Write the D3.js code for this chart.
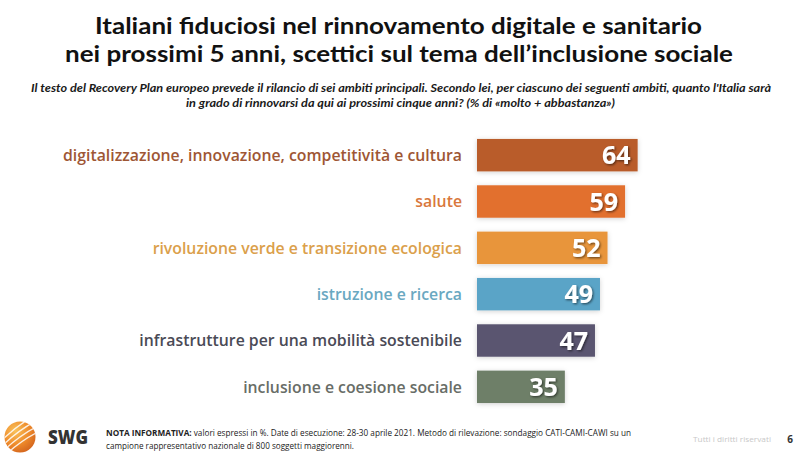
<!DOCTYPE html>
<html>
<head>
<meta charset="utf-8">
<script src="https://cdn.jsdelivr.net/npm/d3@7/dist/d3.min.js"></script>
<style>
  html, body { margin: 0; padding: 0; background: #fff; }
  svg { display: block; }
</style>
</head>
<body>
<svg id="chart" width="800" height="456"></svg>
<script>
// ---- data ----
const categories = [
  "digitalizzazione, innovazione, competitività e cultura",
  "salute",
  "rivoluzione verde e transizione ecologica",
  "istruzione e ricerca",
  "infrastrutture per una mobilità sostenibile",
  "inclusione e coesione sociale"
];
const values = [64, 59, 52, 49, 47, 35];
const barColors = ["#B95B2B", "#E2702F", "#E8953A", "#5AA4C7", "#5A5470", "#6E7F68"];
const labelColors = ["#9E5634", "#D9783C", "#DBA04B", "#6AA8C1", "#4A4A56", "#686D67"];

const titleLines = [
  "Italiani fiduciosi nel rinnovamento digitale e sanitario",
  "nei prossimi 5 anni, scettici sul tema dell\u2019inclusione sociale"
];
const subtitleLines = [
  "Il testo del Recovery Plan europeo prevede il rilancio di sei ambiti principali. Secondo lei, per ciascuno dei seguenti ambiti, quanto l'Italia sarà",
  "in grado di rinnovarsi da qui ai prossimi cinque anni? (% di \u00ABmolto + abbastanza\u00BB)"
];

const svg = d3.select("#chart");

const defs = svg.append("defs");
const sh = defs.append("filter").attr("id", "txtShadow").attr("x", "-30%").attr("y", "-30%").attr("width", "160%").attr("height", "160%");
sh.append("feDropShadow").attr("dx", 1.2).attr("dy", 1.2).attr("stdDeviation", 0.8).attr("flood-color", "#000").attr("flood-opacity", 0.55);
const bsh = defs.append("filter").attr("id", "barShadow").attr("x", "-10%").attr("y", "-30%").attr("width", "120%").attr("height", "160%");
bsh.append("feDropShadow").attr("dx", 0).attr("dy", 1).attr("stdDeviation", 2.5).attr("flood-color", "#000").attr("flood-opacity", 0.18);
const lg = defs.append("radialGradient").attr("id", "logoGrad").attr("cx", "35%").attr("cy", "30%").attr("r", "75%");
lg.append("stop").attr("offset", "0%").attr("stop-color", "#F9C25A");
lg.append("stop").attr("offset", "60%").attr("stop-color", "#EE8A2A");
lg.append("stop").attr("offset", "100%").attr("stop-color", "#D4661E");

function fit(sel, w) {
  sel.attr("textLength", w).attr("lengthAdjust", "spacingAndGlyphs");
}

// ---- title ----
const titleSpecs = [{x: 398.5, y: 33.5, w: 607}, {x: 399, y: 62, w: 668}];
titleLines.forEach((t, i) => {
  svg.append("text")
    .attr("x", titleSpecs[i].x).attr("y", titleSpecs[i].y)
    .attr("text-anchor", "middle")
    .attr("font-family", "Lato").attr("font-weight", 700).attr("font-size", 23.5)
    .attr("fill", "#111")
    .text(t)
    .call(fit, titleSpecs[i].w);
});

const subSpecs = [{x: 401, y: 91.5, w: 740}, {x: 400.5, y: 106.5, w: 429}];
subtitleLines.forEach((t, i) => {
  svg.append("text")
    .attr("x", subSpecs[i].x).attr("y", subSpecs[i].y)
    .attr("text-anchor", "middle")
    .attr("font-family", "Lato").attr("font-style", "italic").attr("font-weight", 700).attr("font-size", 12)
    .attr("fill", "#1a1a1a")
    .text(t)
    .call(fit, subSpecs[i].w);
});

// ---- scales ----
const x = d3.scaleLinear().domain([0, 100]).range([477, 728]);
const y = d3.scaleBand().domain(categories).range([132, 410]).paddingInner(0.3).paddingOuter(0.15);

const rows = categories.map((c, i) => ({c, v: values[i], bc: barColors[i], lc: labelColors[i]}));

// bars
svg.append("g").selectAll("rect").data(rows).join("rect")
  .attr("x", x(0))
  .attr("y", d => y(d.c))
  .attr("width", d => x(d.v) - x(0))
  .attr("height", y.bandwidth())
  .attr("fill", d => d.bc)
  .attr("filter", "url(#barShadow)");

// category labels
const labG = svg.append("g");
const labels = labG.selectAll("text").data(rows).join("text")
  .attr("x", 462)
  .attr("y", d => y(d.c) + y.bandwidth() / 2 + 5.8)
  .attr("text-anchor", "end")
  .attr("font-family", "Open Sans").attr("font-weight", 600).attr("font-size", 16.5)
  .attr("fill", d => d.lc)
  .text(d => d.c);
const firstLen = labels.nodes()[0].getComputedTextLength();
const ratio = 399 / firstLen;
labels.each(function() {
  const l = this.getComputedTextLength();
  d3.select(this).call(fit, l * ratio);
});

// value labels
svg.append("g").selectAll("text").data(rows).join("text")
  .attr("x", d => x(d.v) - 7)
  .attr("y", d => y(d.c) + y.bandwidth() / 2 + 9)
  .attr("text-anchor", "end")
  .attr("font-family", "Open Sans").attr("font-weight", 700).attr("font-size", 25)
  .attr("fill", "#fff")
  .attr("filter", "url(#txtShadow)")
  .text(d => d.v);

// ---- footer ----
const logo = svg.append("g");
logo.append("circle").attr("cx", 20).attr("cy", 437).attr("r", 15.5).attr("fill", "url(#logoGrad)");
const clip = defs.append("clipPath").attr("id", "logoClip");
clip.append("circle").attr("cx", 20).attr("cy", 437).attr("r", 15.5);
const stripes = logo.append("g").attr("clip-path", "url(#logoClip)");
[-9, -3, 3, 9].forEach(o => {
  stripes.append("path")
    .attr("d", `M ${0} ${437 + o + 14} Q ${20} ${437 + o - 6} ${42} ${437 + o - 16}`)
    .attr("fill", "none").attr("stroke", "#fff").attr("stroke-width", 1.4).attr("opacity", 0.85);
});

svg.append("text").attr("x", 48).attr("y", 444)
  .attr("font-family", "Open Sans").attr("font-weight", 800).attr("font-size", 19)
  .attr("fill", "#333").text("SWG").call(fit, 40);

const note1 = svg.append("text").attr("x", 106).attr("y", 436)
  .attr("font-family", "Open Sans").attr("font-size", 8.8).attr("fill", "#222");
note1.append("tspan").attr("font-weight", 700).text("NOTA INFORMATIVA:");
note1.append("tspan").text(" valori espressi in %. Date di esecuzione: 28-30 aprile 2021. Metodo di rilevazione: sondaggio CATI-CAMI-CAWI su un");
note1.call(fit, 525);
svg.append("text").attr("x", 106).attr("y", 449)
  .attr("font-family", "Open Sans").attr("font-size", 8.8).attr("fill", "#222")
  .text("campione rappresentativo nazionale di 800 soggetti maggiorenni.").call(fit, 248);

svg.append("text").attr("x", 693).attr("y", 442)
  .attr("font-family", "Open Sans").attr("font-size", 8).attr("fill", "#c8c8c8")
  .text("Tutti i diritti riservati").call(fit, 78);
svg.append("text").attr("x", 793).attr("y", 442.5).attr("text-anchor", "end")
  .attr("font-family", "Open Sans").attr("font-weight", 700).attr("font-size", 10).attr("fill", "#333")
  .text("6");
</script>
</body>
</html>
